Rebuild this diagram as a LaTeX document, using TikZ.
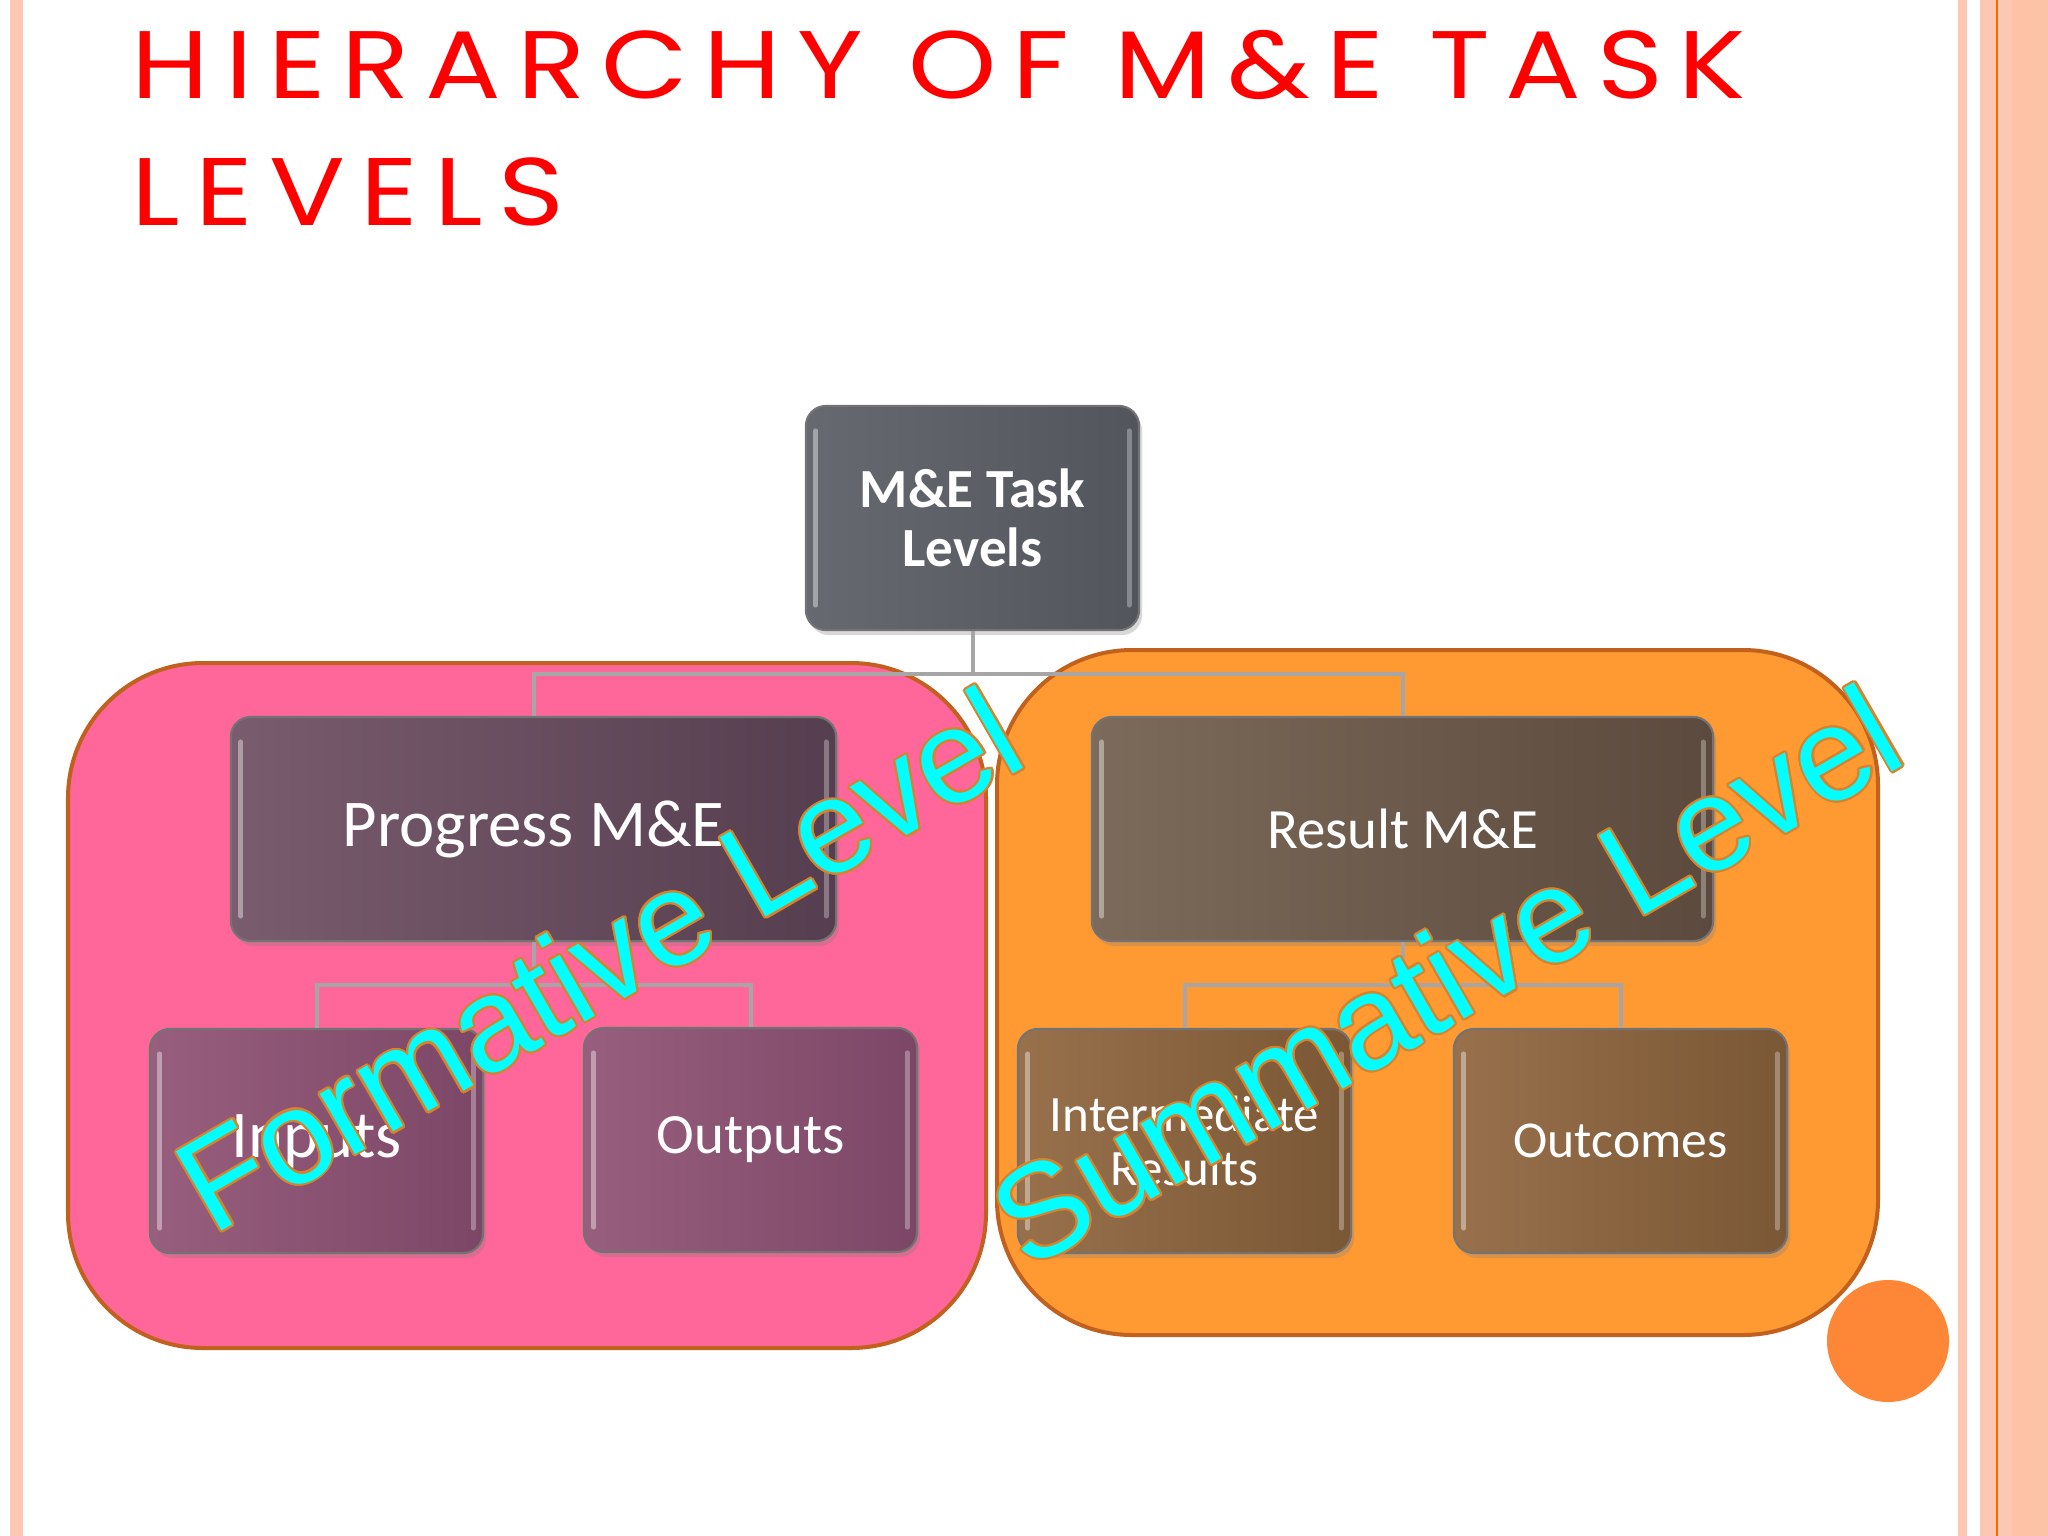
\documentclass[tikz,border=0pt]{standalone}
\usepackage{fontspec}
\usepackage{contour}
\setmainfont{Carlito}
\newfontfamily\titlefont[LetterSpace=14]{Poppins}
\newfontfamily\levelfont{Liberation Sans}
\usetikzlibrary{positioning,shadows}
\contourlength{0.6pt}
\definecolor{titlered}{HTML}{FF0000}
\definecolor{stripe}{HTML}{FDC8B3}
\definecolor{linegray}{HTML}{A6A6A6}
\definecolor{panelpink}{HTML}{FF6699}
\definecolor{panelorange}{HTML}{FF9A33}
\definecolor{panelrim}{HTML}{C2601E}
\definecolor{dot}{HTML}{FD8637}
\definecolor{levelcyan}{HTML}{00FFFF}
\definecolor{levelrim}{HTML}{D9822B}
\definecolor{headL}{HTML}{666970}
\definecolor{headR}{HTML}{52555C}
\definecolor{formL}{HTML}{795C6E}
\definecolor{formR}{HTML}{553E4F}
\definecolor{sumL}{HTML}{7C6A5A}
\definecolor{sumR}{HTML}{5B4A3D}
\definecolor{fleafL}{HTML}{985E7D}
\definecolor{fleafR}{HTML}{7C4767}
\definecolor{sleafL}{HTML}{98704C}
\definecolor{sleafR}{HTML}{7A5735}
\tikzset{basic/.style={draw=black!55,line width=0.6pt,rounded corners=0.2cm,
                       text=white,align=center,inner sep=0pt,
                       minimum width=3.33cm,minimum height=2.24cm,
                       drop shadow={opacity=0.3,shadow xshift=0.03cm,shadow yshift=-0.05cm},
                       path picture={
                         \draw[white,opacity=0.4,line width=0.05cm,line cap=round]
                           ([xshift=0.1cm,yshift=-0.25cm]path picture bounding box.north west)
                           -- ([xshift=0.1cm,yshift=0.25cm]path picture bounding box.south west);
                         \draw[white,opacity=0.3,line width=0.05cm,line cap=round]
                           ([xshift=-0.1cm,yshift=-0.25cm]path picture bounding box.north east)
                           -- ([xshift=-0.1cm,yshift=0.25cm]path picture bounding box.south east);}}}
\tikzset{head/.style={basic,left color=headL,right color=headR,
                      font=\bfseries\fontsize{15.7}{16.8}\selectfont}}
\tikzset{formative/.style={basic,left color=formL,right color=formR,
                           minimum width=6.05cm,font=\fontsize{19}{21}\selectfont}}
\tikzset{summative/.style={basic,left color=sumL,right color=sumR,
                           minimum width=6.21cm,font=\fontsize{16.2}{18}\selectfont}}
\tikzset{fleaf/.style={basic,left color=fleafL,right color=fleafR,
                       font=\fontsize{16.2}{18}\selectfont}}
\tikzset{sleaf/.style={basic,left color=sleafL,right color=sleafR,
                       font=\fontsize{14.7}{16}\selectfont}}
\tikzset{link/.style={draw=linegray,line width=0.04cm}}
\tikzset{panel/.style={draw=panelrim,line width=0.04cm,rounded corners=1.35cm}}
\tikzset{level/.style={text=levelcyan,inner sep=0pt,rotate=30,
                       font=\levelfont\fontsize{37.8}{40}\selectfont}}
\tikzset{heading/.style={anchor=base west,inner sep=0pt,text=titlered,
                         font=\titlefont\fontsize{27.3}{36}\selectfont}}
\begin{document}
\begin{tikzpicture}[x=0.01cm,y=-0.01cm]

    \useasboundingbox (0,0) rectangle (2048,1536);
    \fill[white] (0,0) rectangle (2048,1536);
    % side stripes
    \fill[stripe] (10,0) rectangle (23,1536);
    \fill[stripe] (1958,0) rectangle (1967,1536);
    \fill[stripe] (1980,0) rectangle (2048,1536);
    \fill[stripe!93!orange] (2012,0) rectangle (2048,1536);
    \draw[orange!80!red,line width=0.015cm] (1997,0) -- (1997,1536);

    \node[heading] (title1) at (131,98) {\scalebox{1.17}[1]{HIERARCHY OF M\&E TASK}};
    \node[heading] (title2) at (131,225) {\scalebox{1.17}[1]{LEVELS}};

    % the two level panels
    \draw[panel,fill=panelpink] (68,663) rectangle (986,1348);
    \draw[panel,fill=panelorange] (997,650) rectangle (1878,1335);
    \fill[dot] (1888,1341) circle (61);

    \node[head] (task) at (972.5,518) {M\&E Task\\Levels};

    \node[formative] (progress) at (533.5,829) {Progress M\&E};
    \node[summative] (result) at (1402.5,829) {Result M\&E};

    \node[fleaf,font=\fontsize{19}{21}\selectfont] (inputs) at (316.5,1141) {Inputs};
    \node[fleaf] (outputs) at (750.5,1140) {Outputs};
    \node[sleaf,font=\fontsize{14.5}{15.4}\selectfont] (intermediate) at (1184.5,1141) {Intermediate\\Results};
    \node[sleaf] (outcomes) at (1620.5,1141) {Outcomes};

    \coordinate (j0) at (972.5,674);
    \coordinate (j1) at (533.5,985);
    \coordinate (j2) at (1402.5,985);
    \draw[link] (task) -- (j0) -| (progress);
    \draw[link] (j0) -| (result);
    \draw[link] (progress) -- (j1) -| (inputs);
    \draw[link] (j1) -| (outputs);
    \draw[link] (result) -- (j2) -| (intermediate);
    \draw[link] (j2) -| (outcomes);

    \node[level] (formlevel) at (599,960) {\contour{levelrim}{Formative Level}};
    \node[level] (sumlevel) at (1446,976) {\contour{levelrim}{Summative Level}};

\end{tikzpicture}
\end{document}
